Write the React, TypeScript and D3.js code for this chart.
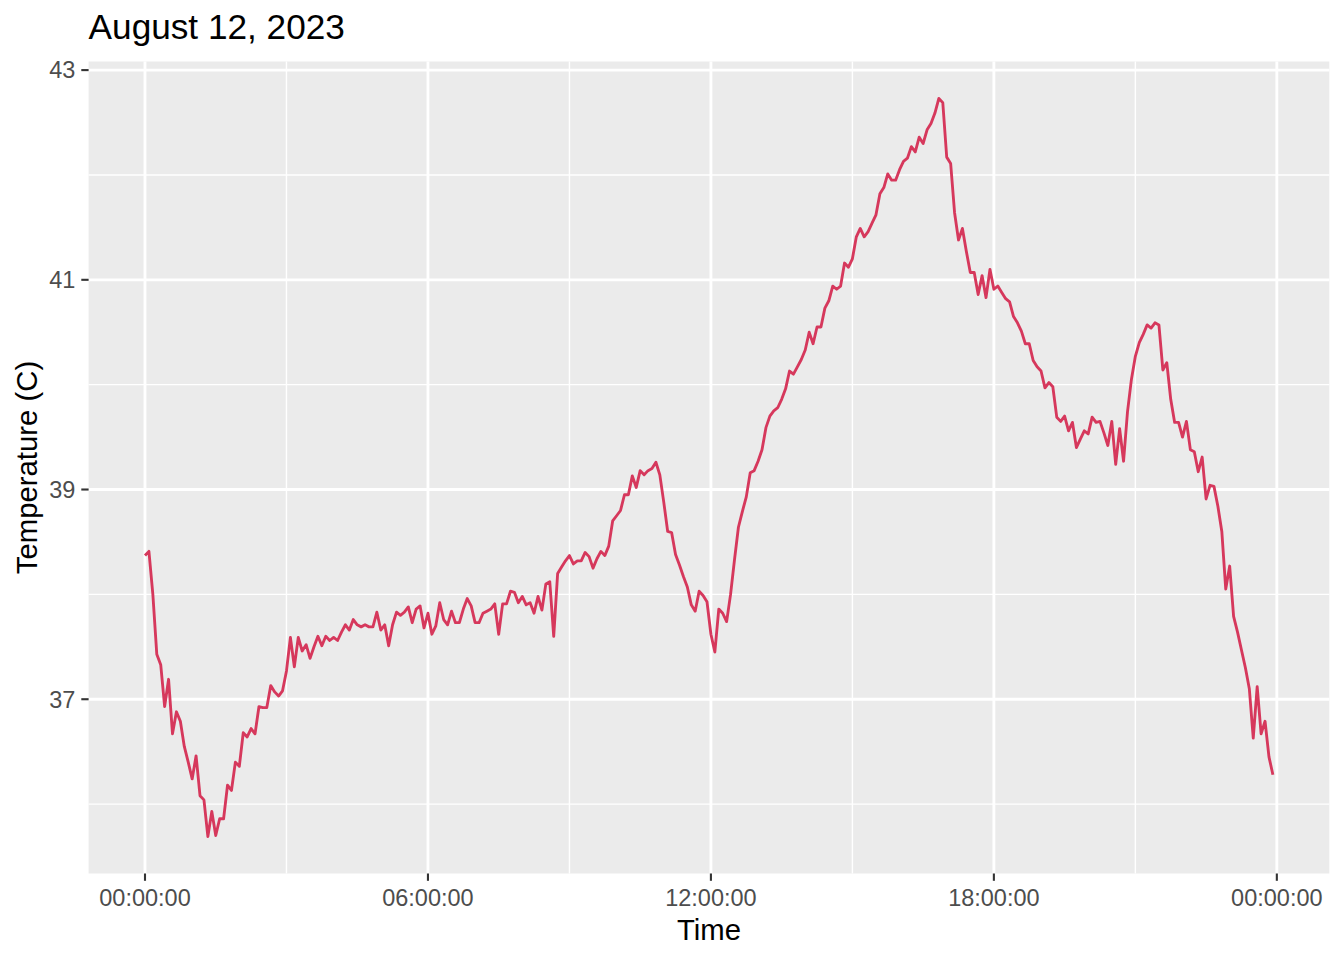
import React from "react";
import * as d3 from "d3";

// ---- Data: temperature readings every 5 minutes on August 12, 2023 ----
const START = new Date(2023, 7, 12, 0, 0, 0);
const STEP_MINUTES = 5;
const temps: number[] = [
  // 00h
  38.37, 38.41, 38.0, 37.43, 37.33, 36.93, 37.19, 36.67, 36.88, 36.79, 36.55, 36.4,
  // 01h
  36.24, 36.46, 36.08, 36.04, 35.69, 35.93, 35.7, 35.86, 35.86, 36.18, 36.13, 36.4,
  // 02h
  36.36, 36.68, 36.64, 36.72, 36.67, 36.93, 36.92, 36.92, 37.13, 37.07, 37.03, 37.08,
  // 03h
  37.27, 37.59, 37.31, 37.59, 37.46, 37.52, 37.39, 37.5, 37.6, 37.51, 37.6, 37.56,
  // 04h
  37.59, 37.56, 37.64, 37.71, 37.66, 37.76, 37.71, 37.69, 37.71, 37.69, 37.69, 37.83,
  // 05h
  37.66, 37.71, 37.51, 37.71, 37.83, 37.8, 37.83, 37.88, 37.73, 37.86, 37.89, 37.68,
  // 06h
  37.82, 37.62, 37.7, 37.92, 37.76, 37.71, 37.84, 37.73, 37.73, 37.86, 37.96, 37.89,
  // 07h
  37.73, 37.73, 37.82, 37.84, 37.86, 37.91, 37.62, 37.91, 37.91, 38.03, 38.02, 37.92,
  // 08h
  37.98, 37.9, 37.92, 37.82, 37.98, 37.85, 38.1, 38.12, 37.6, 38.2, 38.26, 38.32,
  // 09h
  38.37, 38.29, 38.32, 38.32, 38.4, 38.36, 38.25, 38.34, 38.41, 38.37, 38.46, 38.7,
  // 10h
  38.75, 38.8, 38.95, 38.95, 39.13, 39.02, 39.18, 39.14, 39.18, 39.2, 39.26, 39.14,
  // 11h
  38.88, 38.6, 38.59, 38.38, 38.28, 38.17, 38.07, 37.9, 37.84, 38.03, 37.99, 37.93,
  // 12h
  37.62, 37.45, 37.86, 37.82, 37.74, 38.0, 38.33, 38.64, 38.79, 38.93, 39.16, 39.18,
  // 13h
  39.27, 39.38, 39.59, 39.7, 39.75, 39.78, 39.86, 39.96, 40.13, 40.1, 40.17, 40.24,
  // 14h
  40.33, 40.5, 40.39, 40.55, 40.55, 40.73, 40.8, 40.94, 40.91, 40.94, 41.16, 41.12,
  // 15h
  41.2, 41.41, 41.49, 41.41, 41.46, 41.54, 41.62, 41.82, 41.88, 42.01, 41.95, 41.95,
  // 16h
  42.05, 42.13, 42.16, 42.27, 42.22, 42.36, 42.3, 42.43, 42.49, 42.59, 42.73, 42.69,
  // 17h
  42.17, 42.11, 41.64, 41.38, 41.49, 41.27, 41.07, 41.07, 40.86, 41.04, 40.83, 41.1,
  // 18h
  40.91, 40.94, 40.88, 40.82, 40.79, 40.65, 40.59, 40.51, 40.39, 40.39, 40.23, 40.17,
  // 19h
  40.13, 39.97, 40.02, 39.98, 39.69, 39.65, 39.7, 39.56, 39.64, 39.4, 39.48, 39.56,
  // 20h
  39.53, 39.69, 39.64, 39.65, 39.54, 39.42, 39.65, 39.24, 39.58, 39.27, 39.74, 40.05,
  // 21h
  40.27, 40.4, 40.48, 40.57, 40.54, 40.59, 40.57, 40.14, 40.21, 39.86, 39.64, 39.64,
  // 22h
  39.5, 39.65, 39.38, 39.36, 39.17, 39.31, 38.91, 39.04, 39.03, 38.84, 38.6, 38.05,
  // 23h
  38.27, 37.79, 37.64, 37.47, 37.3, 37.1, 36.63, 37.12, 36.67, 36.79, 36.45, 36.28,
];

const yMajorTicks = [37, 39, 41, 43];
const yMinorTicks = [36, 38, 40, 42];
const xMajorHours = [0, 6, 12, 18, 24];
const xMinorHours = [3, 9, 15, 21];

const TITLE = "August 12, 2023";
const X_TITLE = "Time";
const Y_TITLE = "Temperature (C)";

type Pt = { t: Date; v: number };
const data: Pt[] = temps.map((v, i) => ({
  t: new Date(START.getTime() + i * STEP_MINUTES * 60000),
  v,
}));

const W = 1344;
const H = 960;
const panel = { left: 88.6, right: 1329.3, top: 61.5, bottom: 873.5 };
const FONT = "'Liberation Sans', Arial, Helvetica, sans-serif";

function expand(ext: [number, number], mult = 0.05): [number, number] {
  const r = ext[1] - ext[0];
  return [ext[0] - r * mult, ext[1] + r * mult];
}

export default function App() {
  const tExt = d3.extent(data, (d) => d.t.getTime()) as [number, number];
  const vExt = d3.extent(data, (d) => d.v) as [number, number];
  const xDom = expand(tExt);
  const x = d3
    .scaleTime()
    .domain([new Date(xDom[0]), new Date(xDom[1])])
    .range([panel.left, panel.right]);
  const y = d3.scaleLinear().domain(expand(vExt)).range([panel.bottom, panel.top]);

  const hourDate = (h: number) => new Date(START.getTime() + h * 3600000);
  const fmt = d3.timeFormat("%H:%M:%S");

  const line = d3
    .line<Pt>()
    .x((d) => x(d.t))
    .y((d) => y(d.v));

  const major = 2.85;
  const minor = 1.42;
  const tickLen = 7.3;

  return (
    <svg
      width={W}
      height={H}
      style={{ position: "absolute", left: 0, top: 0, background: "#ffffff" }}
      fontFamily={FONT}
    >
      <rect x={0} y={0} width={W} height={H} fill="#ffffff" />
      <rect
        x={panel.left}
        y={panel.top}
        width={panel.right - panel.left}
        height={panel.bottom - panel.top}
        fill="#EBEBEB"
      />
      {/* minor grid */}
      {yMinorTicks.map((v) => (
        <line key={"ym" + v} x1={panel.left} x2={panel.right} y1={y(v)} y2={y(v)} stroke="#fff" strokeWidth={minor} />
      ))}
      {xMinorHours.map((h) => (
        <line key={"xm" + h} x1={x(hourDate(h))} x2={x(hourDate(h))} y1={panel.top} y2={panel.bottom} stroke="#fff" strokeWidth={minor} />
      ))}
      {/* major grid */}
      {yMajorTicks.map((v) => (
        <line key={"yM" + v} x1={panel.left} x2={panel.right} y1={y(v)} y2={y(v)} stroke="#fff" strokeWidth={major} />
      ))}
      {xMajorHours.map((h) => (
        <line key={"xM" + h} x1={x(hourDate(h))} x2={x(hourDate(h))} y1={panel.top} y2={panel.bottom} stroke="#fff" strokeWidth={major} />
      ))}
      {/* data line */}
      <path d={line(data) || ""} fill="none" stroke="#D6385C" strokeWidth={2.85} strokeLinejoin="round" strokeLinecap="butt" />
      {/* y axis ticks + labels */}
      {yMajorTicks.map((v) => (
        <g key={"yt" + v}>
          <line x1={panel.left - tickLen} x2={panel.left} y1={y(v)} y2={y(v)} stroke="#333333" strokeWidth={2.1} />
          <text x={panel.left - tickLen - 5.9} y={y(v) + 8.3} textAnchor="end" fontSize={23.5} fill="#4D4D4D">
            {v}
          </text>
        </g>
      ))}
      {/* x axis ticks + labels */}
      {xMajorHours.map((h) => (
        <g key={"xt" + h}>
          <line x1={x(hourDate(h))} x2={x(hourDate(h))} y1={panel.bottom} y2={panel.bottom + tickLen} stroke="#333333" strokeWidth={2.1} />
          <text x={x(hourDate(h))} y={906} textAnchor="middle" fontSize={23.5} fill="#4D4D4D">
            {fmt(hourDate(h))}
          </text>
        </g>
      ))}
      {/* axis titles */}
      <text x={(panel.left + panel.right) / 2} y={940} textAnchor="middle" fontSize={29.3} fill="#000">
        {X_TITLE}
      </text>
      <text
        transform={`translate(37, ${(panel.top + panel.bottom) / 2}) rotate(-90)`}
        textAnchor="middle"
        fontSize={29.3}
        fill="#000"
      >
        {Y_TITLE}
      </text>
      {/* title */}
      <text x={panel.left} y={39} fontSize={35.2} fill="#000">
        {TITLE}
      </text>
    </svg>
  );
}
